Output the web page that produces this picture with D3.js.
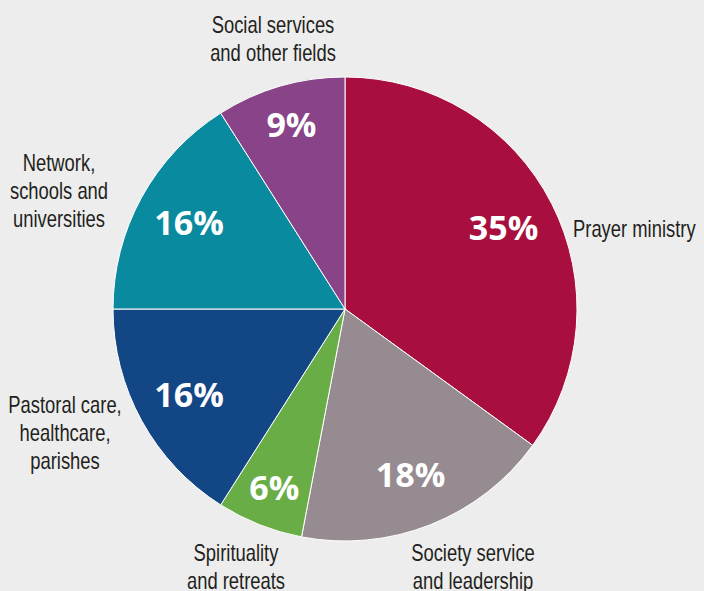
<!DOCTYPE html>
<html>
<head>
<meta charset="utf-8">
<script src="https://cdn.jsdelivr.net/npm/d3@7"></script>
<style>
  body { margin: 0; background: #ededed; }
  svg { display: block; }
  .lbl { font-family: "Liberation Sans", Arial, sans-serif; font-size: 23px; fill: #231f20; }
  .pct { font-family: "Open Sans", sans-serif; font-weight: 700; font-size: 34px; fill: #fff; }
</style>
</head>
<body>
<div id="chart"></div>
<script>
// Data (clockwise from 12 o'clock)
const categories = ["Prayer ministry", "Society service and leadership", "Spirituality and retreats",
  "Pastoral care, healthcare, parishes", "Network, schools and universities", "Social services and other fields"];
const shares = [35, 18, 6, 16, 16, 9];
const colors = ["#a80f3e", "#958b91", "#69ad46", "#134684", "#0a8a9e", "#894388"];
// label lines, as printed
const labelLines = [
  ["Prayer ministry"],
  ["Society service", "and leadership"],
  ["Spirituality", "and retreats"],
  ["Pastoral care,", "healthcare,", "parishes"],
  ["Network,", "schools and", "universities"],
  ["Social services", "and other fields"]
];

const width = 704, height = 591;
const cx = 345, cy = 309, radius = 232;

const svg = d3.select("#chart").append("svg")
  .attr("width", width)
  .attr("height", height);

svg.append("rect").attr("width", width).attr("height", height).attr("fill", "#ededed");

const pie = d3.pie().sort(null).value(d => d);
const arcs = pie(shares);

const arc = d3.arc().innerRadius(0).outerRadius(radius);

const g = svg.append("g").attr("transform", `translate(${cx},${cy})`);

g.selectAll("path")
  .data(arcs)
  .enter().append("path")
  .attr("d", arc)
  .attr("fill", (d, i) => colors[i])
  .attr("stroke", "#fff")
  .attr("stroke-width", 1);

// percentage labels inside slices
const pctArc = d => {
  const r = d.data >= 16 ? 178 : 192;
  return d3.arc().innerRadius(r).outerRadius(r).centroid(d);
};

g.selectAll(".pct")
  .data(arcs)
  .enter().append("text")
  .attr("class", "pct")
  .attr("text-anchor", "middle")
  .attr("x", d => pctArc(d)[0])
  .attr("y", d => pctArc(d)[1] + 12)
  .text(d => d.data + "%");

// outside category labels (condensed look via horizontal scale)
const squeeze = 0.8;
const labelPos = [
  { x: 573, y: 237, anchor: "start" },
  { x: 473, y: 561, anchor: "middle" },
  { x: 236, y: 561, anchor: "middle" },
  { x: 65, y: 413, anchor: "middle" },
  { x: 59, y: 171, anchor: "middle" },
  { x: 273, y: 33, anchor: "middle" }
];

labelLines.forEach((lines, i) => {
  const p = labelPos[i];
  const t = svg.append("g")
    .attr("transform", `translate(${p.x},${p.y}) scale(${squeeze},1)`)
    .append("text")
    .attr("class", "lbl")
    .attr("text-anchor", p.anchor);
  lines.forEach((line, j) => {
    t.append("tspan")
      .attr("x", 0)
      .attr("dy", j === 0 ? 0 : 28)
      .text(line);
  });
});
</script>
</body>
</html>
